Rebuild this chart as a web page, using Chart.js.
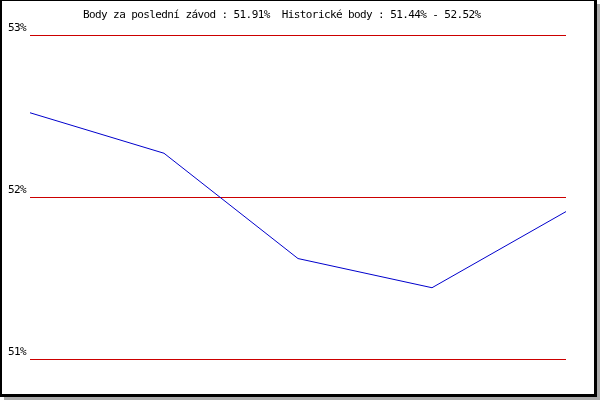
<!DOCTYPE html>
<html>
<head>
<meta charset="utf-8">
<script src="https://cdn.jsdelivr.net/npm/chart.js@4/dist/chart.umd.min.js"></script>
<style>
	body { margin: 0; background: #fff; }
	#frame {
		position: absolute; left: 0; top: 0;
		width: 592px; height: 393px;
		border-style: solid; border-color: #000;
		border-width: 1px 3px 3px 2px;
		box-shadow: 4px 4px 0 #aaaaaa;
		background: #fff;
	}
	#chart { position: absolute; left: 0; top: 0; }
</style>
</head>
<body>
<div id="frame"></div>
<canvas id="chart" width="600" height="400"></canvas>
<script>
const TITLE = "Body za poslední závod : 51.91%  Historické body : 51.44% - 52.52%";
const RACES = ["1", "2", "3", "4", "5"];
const POINTS = [52.52, 52.27, 51.62, 51.44, 51.91];
const Y_MIN = 51;
const Y_MAX = 53;
const Y_STEP = 1;
const FONT = "DejaVu Sans Mono";
const SPACING = "-0.6px";

// title sits a bit left of centre in the original, so draw it by hand
const titlePlugin = {
	id: "titleText",
	beforeDraw: (chart) => {
		chart.ctx.letterSpacing = SPACING;
	},
	afterDraw: (chart) => {
		var ctx = chart.ctx;
		ctx.save();
		ctx.letterSpacing = SPACING;
		ctx.font = `11px "${FONT}"`;
		ctx.fillStyle = "#000";
		ctx.textAlign = "left";
		ctx.textBaseline = "alphabetic";
		ctx.fillText(TITLE, 83, 18);
		ctx.restore();
	},
};

new Chart(document.getElementById("chart"), {
	type: "line",
	data: {
		labels: RACES,
		datasets: [
			{
				data: POINTS,
				borderColor: "#0000cc",
				borderWidth: 1,
				pointRadius: 0,
				tension: 0,
				fill: false,
			},
		],
	},
	plugins: [titlePlugin],
	options: {
		responsive: false,
		animation: false,
		layout: {
			padding: { top: 35, right: 34, bottom: 41, left: 0 },
		},
		plugins: {
			legend: { display: false },
			tooltip: { enabled: false },
			title: { display: false },
		},
		scales: {
			x: {
				display: false,
				offset: false,
			},
			y: {
				min: Y_MIN,
				max: Y_MAX,
				afterFit: (scale) => {
					scale.width = 30;
				},
				border: { display: false },
				grid: {
					color: "#cc0000",
					lineWidth: 1,
					drawTicks: false,
				},
				ticks: {
					stepSize: Y_STEP,
					padding: 4,
					labelOffset: -7,
					color: "#000",
					font: { family: FONT, size: 11 },
					callback: (v) => v + "%",
				},
			},
		},
	},
});
</script>
</body>
</html>
